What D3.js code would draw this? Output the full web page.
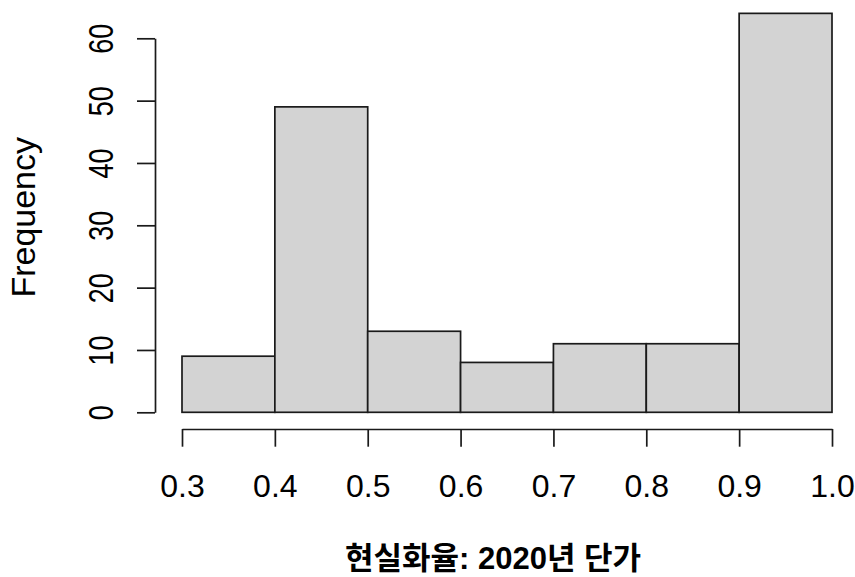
<!DOCTYPE html>
<html>
<head>
<meta charset="utf-8">
<script src="https://cdn.jsdelivr.net/npm/d3@7"></script>
<style>
  html, body { margin: 0; padding: 0; background: #fff; }
  svg { display: block; }
</style>
</head>
<body>
<svg id="chart" width="855" height="577"></svg>
<script>
// ---- data ----
const binStarts = [0.3, 0.4, 0.5, 0.6, 0.7, 0.8, 0.9];
const binEnds   = [0.4, 0.5, 0.6, 0.7, 0.8, 0.9, 1.0];
const counts    = [9, 49, 13, 8, 11, 11, 64];
const xTicks    = [0.3, 0.4, 0.5, 0.6, 0.7, 0.8, 0.9, 1.0];
const yTicks    = [0, 10, 20, 30, 40, 50, 60];
const xTitle    = "현실화율: 2020년 단가";
const yTitle    = "Frequency";

const svg = d3.select("#chart");
const x = d3.scaleLinear().domain([0.3, 1.0]).range([182, 832]);
const y = d3.scaleLinear().domain([0, 60]).range([412.3, 38.3]);

const ink = "#1a1a1a";
const font = "'Liberation Sans', Arial, 'Noto Sans CJK KR', sans-serif";

// bars
const bins = counts.map((c, i) => ({x0: binStarts[i], x1: binEnds[i], n: c}));
svg.append("g").selectAll("rect").data(bins).join("rect")
  .attr("x", d => x(d.x0))
  .attr("y", d => y(d.n))
  .attr("width", d => x(d.x1) - x(d.x0))
  .attr("height", d => y(0) - y(d.n))
  .attr("fill", "#d3d3d3")
  .attr("stroke", ink)
  .attr("stroke-width", 1.7);

// x axis
const xAxis = d3.axisBottom(x).tickValues(xTicks).tickSize(17.7).tickSizeOuter(0)
  .tickFormat(d3.format(".1f"));
const gx = svg.append("g").attr("transform", "translate(0,429)").call(xAxis);
gx.select(".domain").attr("stroke", ink).attr("stroke-width", 1.7);
gx.selectAll(".tick line").attr("stroke", ink).attr("stroke-width", 1.7);
gx.selectAll(".tick text").attr("fill", "#000")
  .attr("font-family", font).attr("font-size", 32)
  .attr("y", 0).attr("dy", 0)
  .attr("transform", "translate(0,68)");

// y axis
const yAxis = d3.axisLeft(y).tickValues(yTicks).tickSize(18).tickSizeOuter(0)
  .tickFormat(d3.format("d"));
const gy = svg.append("g").attr("transform", "translate(155,0)").call(yAxis);
gy.select(".domain").attr("stroke", ink).attr("stroke-width", 1.7);
gy.selectAll(".tick line").attr("stroke", ink).attr("stroke-width", 1.7);
gy.selectAll(".tick text").attr("fill", "#000")
  .attr("font-family", font).attr("font-size", 27)
  .attr("x", 0).attr("dy", 0)
  .attr("text-anchor", "middle")
  .attr("transform", "translate(-42,0) rotate(-90) scale(1,1.33)");

// axis titles
svg.append("text")
  .attr("transform", `translate(35,${y(30) - 8}) rotate(-90)`)
  .attr("text-anchor", "middle")
  .attr("font-family", font).attr("font-size", 34)
  .attr("fill", "#000")
  .text(yTitle);

svg.append("text")
  .attr("x", 493).attr("y", 569)
  .attr("text-anchor", "middle")
  .attr("font-family", font).attr("font-size", 31).attr("font-weight", "bold")
  .attr("fill", "#000")
  .text(xTitle);
</script>
</body>
</html>
